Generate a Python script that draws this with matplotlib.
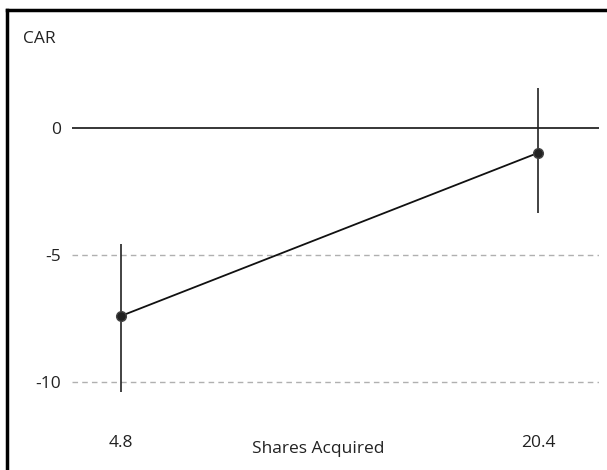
import matplotlib.pyplot as plt
from matplotlib.lines import Line2D

plt.rcParams['font.family'] = ['Open Sans', 'DejaVu Sans']

# Data
shares = [4.8, 20.4]
car = [-7.40, -0.98]
ci_low = [-10.4, -3.35]
ci_high = [-4.57, 1.57]
yticks = [0, -5, -10]
xtick_labels = ['4.8', '20.4']

W, H = 607, 470
fig = plt.figure(figsize=(W / 100, H / 100), dpi=100)

# axes occupying px x 72..599, y 60..400
left, right, top, bottom = 72, 599, 60, 400
ax = fig.add_axes([left / W, 1 - bottom / H, (right - left) / W, (bottom - top) / H])

ax.set_xlim(2.967, 22.68)
ax.set_ylim(-(bottom - 128) / 25.4, (128 - top) / 25.4)

# reference lines
ax.axhline(0, color='black', lw=1.1, zorder=1)
for y in [-5, -10]:
    ax.axhline(y, color='#b0b0b0', lw=1.0, ls=(0, (4, 3)), zorder=1)

# confidence intervals
ax.vlines(shares, ci_low, ci_high, color='#222222', lw=1.2, zorder=2)

# fitted line with points
ax.plot(shares, car, color='#111111', lw=1.3, marker='o', ms=7,
        markerfacecolor='#222222', markeredgecolor='#444444', zorder=3)

fs = 12.5
ax.set_yticks(yticks)
ax.set_yticklabels([str(v) for v in yticks], fontsize=fs, color='#222222')
ax.set_xticks(shares)
ax.set_xticklabels(xtick_labels, fontsize=fs, color='#222222')
ax.tick_params(axis='y', length=0, pad=8)
ax.tick_params(axis='x', length=0, pad=25)
for s in ax.spines.values():
    s.set_visible(False)

fig.text(23 / W, 1 - 39 / H, 'CAR', fontsize=fs, color='#222222', ha='left', va='center')
fig.text(318 / W, 1 - 449 / H, 'Shares Acquired', fontsize=fs, color='#222222',
         ha='center', va='center')

# outer frame (left and top edges)
fig.add_artist(Line2D([7 / W, 7 / W], [0, 1 - 10 / H], color='black', lw=2.5,
                      transform=fig.transFigure))
fig.add_artist(Line2D([7 / W, 1], [1 - 10 / H, 1 - 10 / H], color='black', lw=2.5,
                      transform=fig.transFigure))

fig.savefig('out.png', dpi=100)
